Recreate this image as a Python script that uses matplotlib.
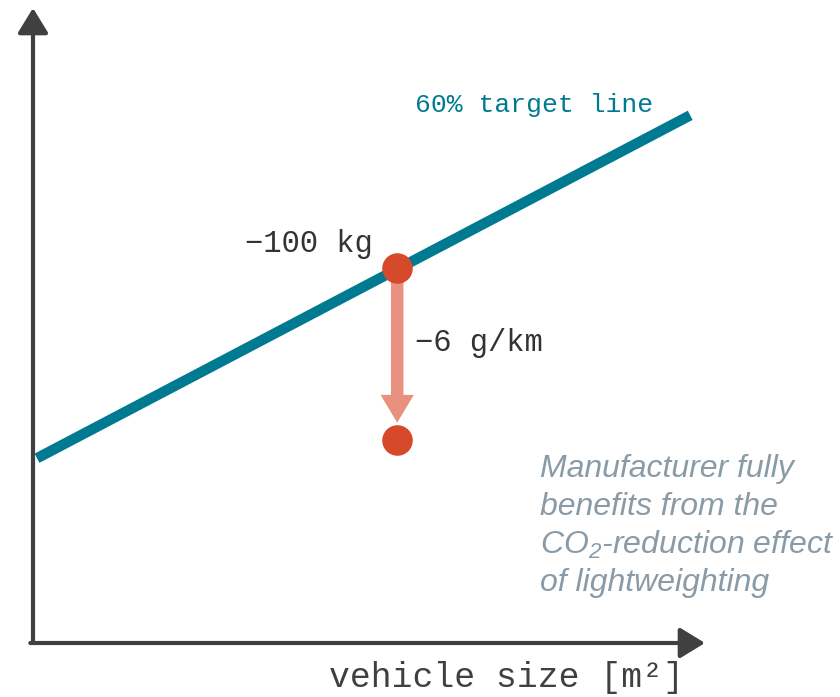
import matplotlib.pyplot as plt

# target line (vehicle size vs. CO2 target), arbitrary units
line_x = [0.06, 9.78]
line_y = [2.91, 8.31]

# lightweighting effect: point on the line and the point after -100 kg
point_x = [5.42, 5.42]
point_y = [5.90, 3.20]

line_label = "60% target line"
weight_label = "\u2212100 kg"
co2_label = "\u22126 g/km"
xlabel = "vehicle size [m\u00b2]"
note_lines = ["Manufacturer fully", "benefits from the",
              "CO$_\\mathregular{2}$-reduction effect", "of lightweighting"]

teal = "#007A90"
red = "#D64A2B"
salmon = "#E8917E"
dark = "#404040"
grey = "#8A9BA8"

plt.rcParams['mathtext.default'] = 'regular'
mono = ['Liberation Mono', 'DejaVu Sans Mono']

fig = plt.figure(figsize=(8.4, 6.97), dpi=100)
ax = fig.add_axes([33 / 840, 54 / 697, 672 / 840, 635 / 697])
ax.set_xlim(0, 10)
ax.set_ylim(0, 10)
ax.axis('off')

# axes with arrow heads
ax.annotate("", xy=(0, 1), xytext=(0, 0), xycoords='axes fraction',
            arrowprops=dict(arrowstyle='-|>,head_length=0.9,head_width=0.55',
                            color=dark, lw=3, shrinkA=0, shrinkB=0, mutation_scale=17),
            annotation_clip=False)
ax.annotate("", xy=(1, 0), xytext=(-0.004, 0), xycoords='axes fraction',
            arrowprops=dict(arrowstyle='-|>,head_length=0.9,head_width=0.55',
                            color=dark, lw=3, shrinkA=0, shrinkB=0, mutation_scale=17),
            annotation_clip=False)

ax.plot(line_x, line_y, color=teal, lw=7.5, solid_capstyle='butt', zorder=2)

# arrow from the line down to the lighter vehicle
ax.annotate("", xy=(point_x[1], point_y[1] + 0.27), xytext=(point_x[0], point_y[0]),
            arrowprops=dict(arrowstyle='simple,head_length=1.0,head_width=1.2,tail_width=0.45',
                            color=salmon, lw=0, shrinkA=0, shrinkB=0, mutation_scale=20),
            zorder=3)
ax.plot(point_x, point_y, 'o', color=red, markersize=22, markeredgewidth=0, zorder=4)

ax.text(5.69, 8.48, line_label, color=teal, fontsize=19, family=mono, va='center', ha='left')
ax.text(5.05, 6.29, weight_label, color='#333333', fontsize=22, family=mono, va='center', ha='right')
ax.text(5.69, 4.72, co2_label, color='#333333', fontsize=22, family=mono, va='center', ha='left')
ax.text(7.04, -0.55, xlabel, color=dark, fontsize=25, family=mono, va='center', ha='center')

for i, s in enumerate(note_lines):
    ax.text(7.545, 2.74 - i * 0.6, s, color=grey, fontsize=23, style='italic',
            family=['Liberation Sans', 'DejaVu Sans'], va='center', ha='left')

fig.savefig("out.png", dpi=100)
